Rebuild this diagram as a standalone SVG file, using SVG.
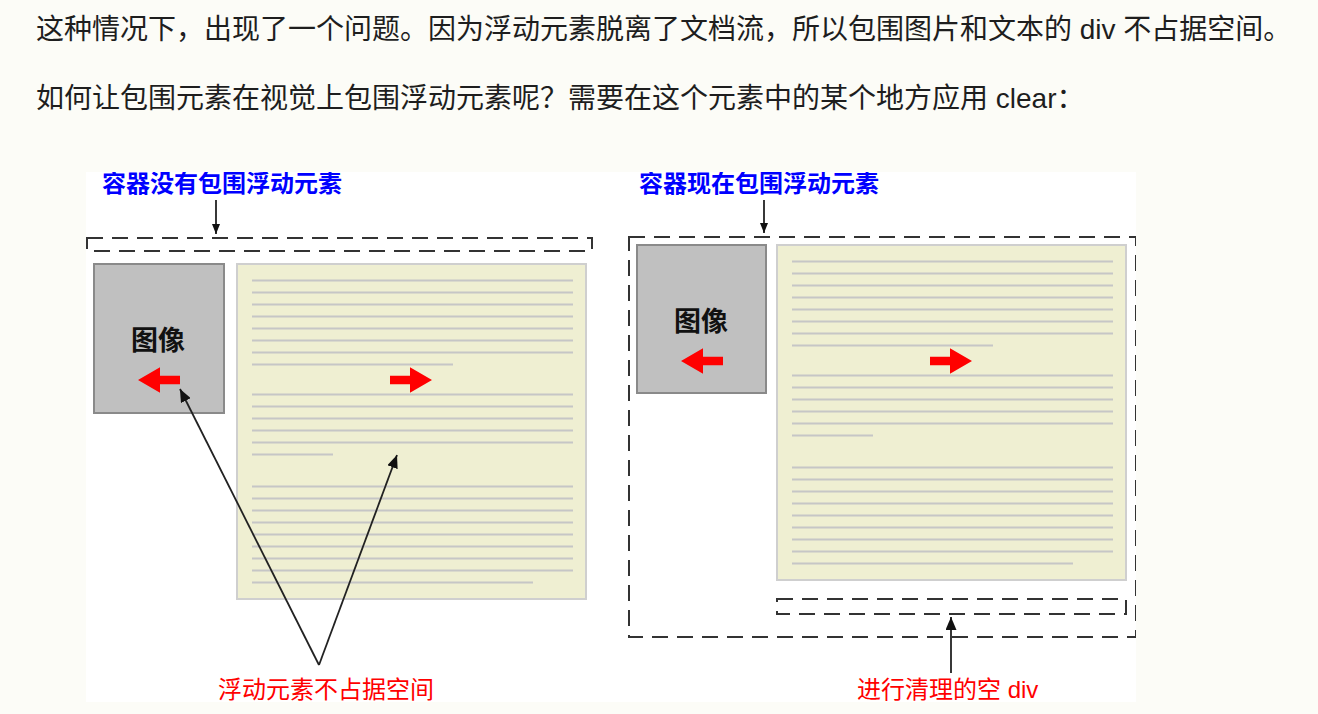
<svg xmlns="http://www.w3.org/2000/svg" xmlns:xlink="http://www.w3.org/1999/xlink" width="1318" height="714" viewBox="0 0 1318 714">
<style>
.para{font-family:"Liberation Sans","Noto Sans CJK SC",sans-serif;font-size:28px;fill:#1e1e1e}
.title{font-family:"Noto Sans CJK SC",sans-serif;font-size:24px;font-weight:bold;fill:#0000ff}
.label{font-family:"Liberation Sans","Noto Sans CJK SC",sans-serif;font-size:24px;fill:#ff0000}
.imgtxt{font-family:"Noto Sans CJK SC",sans-serif;font-size:27px;font-weight:bold;fill:#111;text-anchor:middle}
.dash{fill:none;stroke:#333;stroke-width:2;stroke-dasharray:16 9}
.imgbox{fill:#c0c0c0;stroke:#8a8a8a;stroke-width:2}
.block{fill:#efefd2;stroke:#cfcfcf;stroke-width:2}
.lines{fill:none;stroke:#c6c6c6;stroke-width:2}
.red{fill:#ff0000}
.conn{fill:none;stroke:#222;stroke-width:1.8}
</style>
<defs>
<marker id="ah" viewBox="0 0 13 11" refX="13" refY="5.5" markerWidth="13" markerHeight="11" markerUnits="userSpaceOnUse" orient="auto">
<path d="M0,0 L13,5.5 L0,11 z" fill="#111"/>
</marker>
<marker id="ahs" viewBox="0 0 10 8" refX="10" refY="4" markerWidth="10" markerHeight="8" markerUnits="userSpaceOnUse" orient="auto">
<path d="M0,0 L10,4 L0,8 z" fill="#111"/>
</marker>
<path id="rarrow" d="M-21,-4.2 L-1,-4.2 L-1,-12.7 L21,0 L-1,12.7 L-1,4.2 L-21,4.2 z"/>
<path id="textlines" d="M15,16.5H336M15,28.5H336M15,40.5H336M15,52.5H336M15,64.5H336M15,76.5H336M15,88.5H336M15,100.5H216M15,130.5H336M15,142.5H336M15,154.5H336M15,166.5H336M15,178.5H336M15,190.5H96M15,222.5H336M15,234.5H336M15,246.5H336M15,258.5H336M15,270.5H336M15,282.5H336M15,294.5H336M15,306.5H336M15,318.5H296"/>
<clipPath id="pic"><rect x="86" y="172" width="1050" height="530"/></clipPath>
</defs>
<rect x="0" y="0" width="1318" height="714" fill="#fcfcf7"/>
<g id="intro">
<text class="para" x="36" y="39">这种情况下，出现了一个问题。因为浮动元素脱离了文档流，所以包围图片和文本的 div 不占据空间。</text>
<text class="para" x="36" y="108">如何让包围元素在视觉上包围浮动元素呢？需要在这个元素中的某个地方应用 clear：</text>
</g>
<rect x="86" y="172" width="1050" height="530" fill="#ffffff"/>
<g clip-path="url(#pic)">
<g id="left-title"><text class="title" x="102" y="192">容器没有包围浮动元素</text></g>
<g id="left-container"><rect class="dash" x="87" y="238" width="505" height="13"/></g>
<g id="left-image">
<rect class="imgbox" x="94" y="264" width="130" height="149"/>
<text class="imgtxt" x="158" y="350">图像</text>
<use xlink:href="#rarrow" class="red" transform="translate(159,380) scale(-1,1)"/>
</g>
<g id="left-text">
<rect class="block" x="237" y="264" width="349" height="335"/>
<use xlink:href="#textlines" class="lines" transform="translate(237,264)"/>
<use xlink:href="#rarrow" class="red" transform="translate(411,380)"/>
</g>
<g id="left-label"><text class="label" x="218" y="698">浮动元素不占据空间</text></g>
<g id="right-title"><text class="title" x="639" y="192">容器现在包围浮动元素</text></g>
<g id="right-container"><rect class="dash" x="629" y="237" width="507" height="400"/></g>
<g id="right-image">
<rect class="imgbox" x="637" y="245" width="129" height="148"/>
<text class="imgtxt" x="701" y="331">图像</text>
<use xlink:href="#rarrow" class="red" transform="translate(702,361) scale(-1,1)"/>
</g>
<g id="right-text">
<rect class="block" x="777" y="245" width="349" height="335"/>
<use xlink:href="#textlines" class="lines" transform="translate(777,245)"/>
<use xlink:href="#rarrow" class="red" transform="translate(951,361)"/>
</g>
<g id="clear-div"><rect class="dash" x="777" y="599" width="349" height="15"/></g>
<g id="right-label"><text class="label" x="857" y="698">进行清理的空 div</text></g>
<g id="connectors">
<line class="conn" x1="216" y1="200" x2="216" y2="234" marker-end="url(#ahs)"/>
<line class="conn" x1="764" y1="200" x2="764" y2="233" marker-end="url(#ahs)"/>
<line class="conn" x1="319" y1="665" x2="180" y2="389" marker-end="url(#ah)"/>
<line class="conn" x1="319" y1="665" x2="397" y2="455" marker-end="url(#ah)"/>
<line class="conn" x1="951" y1="673" x2="951" y2="617" marker-end="url(#ah)"/>
</g>
</g>
</svg>
